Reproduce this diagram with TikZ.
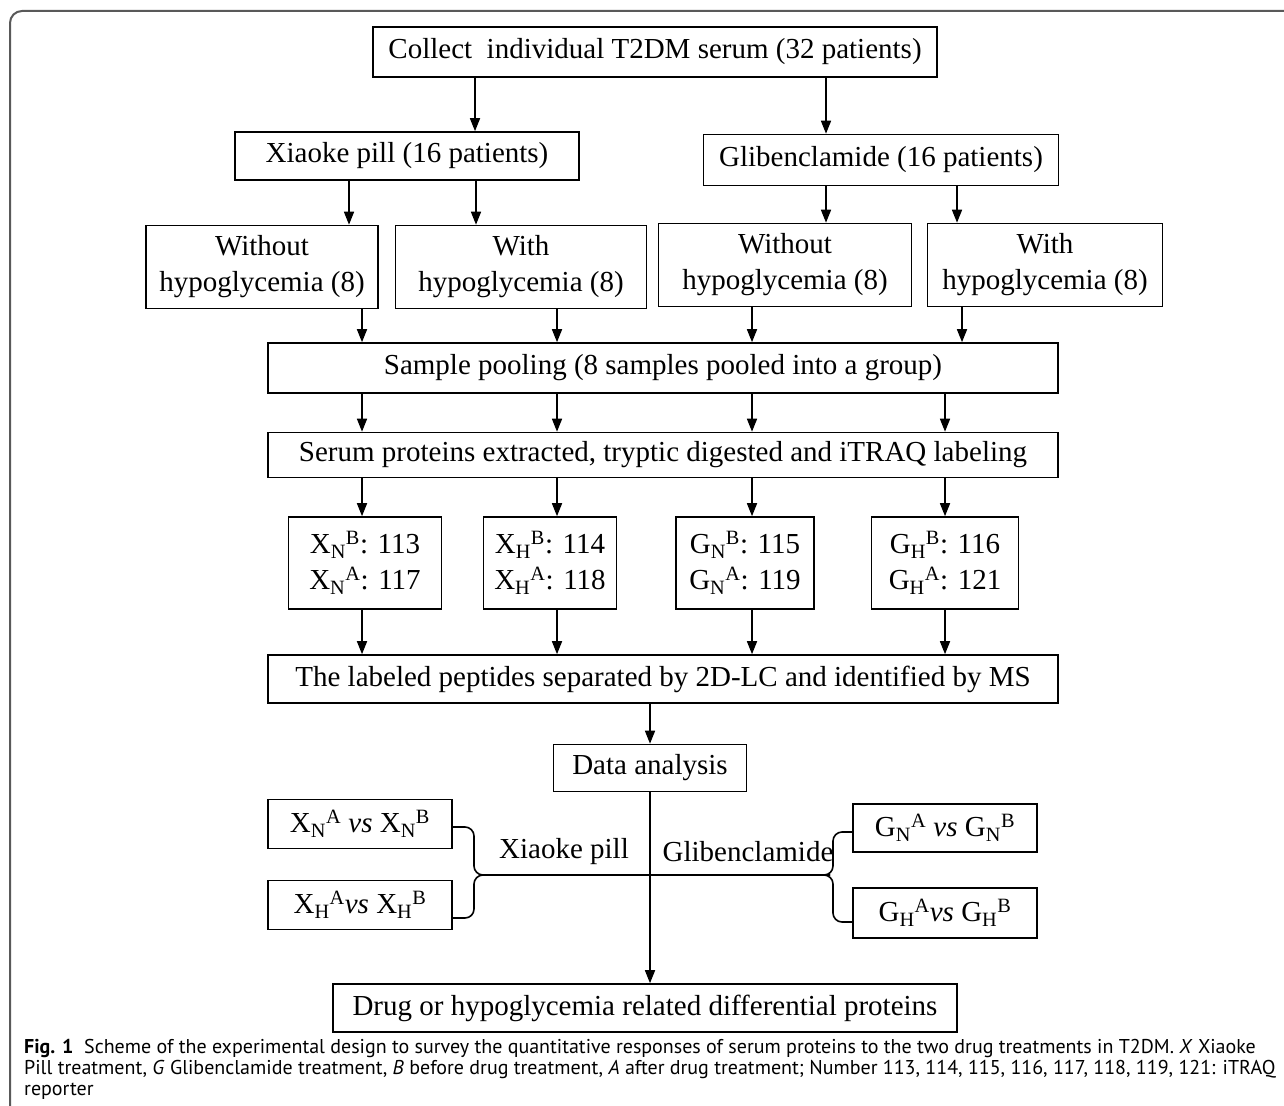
\documentclass[tikz,border=0pt]{standalone}
\usepackage{fontspec}
\setmainfont{Liberation Serif}
\newfontfamily\capfont{PT Sans}
\usetikzlibrary{arrows.meta}

\begin{document}
\begin{tikzpicture}[x=1pt,y=-1pt]
	\tikzstyle{every node}+=[inner sep=0pt,font=\fontsize{29}{36}\selectfont]
	\tikzstyle{box}=[draw=black,line width=1.6pt,align=center]
	\tikzstyle{arr}=[black,line width=1.6pt,-{Triangle[length=13pt,width=10pt]}]
	\tikzstyle{brace}=[black,line width=1.6pt,rounded corners=9pt]
	\useasboundingbox (0,0) rectangle (1284,1105);
	% outer frame
	\draw [line width=2pt,black!65,rounded corners=12pt] (1290,11) -- (10,11) -- (10,1110);
	% boxes
	\node [box,minimum width=564,minimum height=50] (collect) at (655,52) {Collect\ \ individual T2DM serum (32 patients)};
	\node [box,minimum width=344,minimum height=48] (xiaoke) at (407,156) {Xiaoke pill (16 patients)};
	\node [box,minimum width=355,minimum height=51] (glib) at (881,160) {Glibenclamide (16 patients)};
	\node [box,minimum width=232,minimum height=83] (xn) at (262,267) {Without\\hypoglycemia (8)};
	\node [box,minimum width=251,minimum height=83] (xh) at (521,267) {With\\hypoglycemia (8)};
	\node [box,minimum width=253,minimum height=83] (gn) at (785,265) {Without\\hypoglycemia (8)};
	\node [box,minimum width=235,minimum height=83] (gh) at (1045,265) {With\\hypoglycemia (8)};
	\node [box,minimum width=790,minimum height=50] (pool) at (663,368) {Sample pooling (8 samples pooled into a group)};
	\node [box,minimum width=790,minimum height=45] (serum) at (663,455) {Serum proteins extracted, tryptic digested and iTRAQ labeling};
	\node [box,minimum width=153,minimum height=92] (lxn) at (365,563) {X\textsubscript{N}\textsuperscript{B}: 113\\X\textsubscript{N}\textsuperscript{A}: 117};
	\node [box,minimum width=133,minimum height=92] (lxh) at (550,563) {X\textsubscript{H}\textsuperscript{B}: 114\\X\textsubscript{H}\textsuperscript{A}: 118};
	\node [box,minimum width=138,minimum height=92] (lgn) at (745,563) {G\textsubscript{N}\textsuperscript{B}: 115\\G\textsubscript{N}\textsuperscript{A}: 119};
	\node [box,minimum width=147,minimum height=92] (lgh) at (945,563) {G\textsubscript{H}\textsuperscript{B}: 116\\G\textsubscript{H}\textsuperscript{A}: 121};
	\node [box,minimum width=790,minimum height=48] (pept) at (663,679) {The labeled peptides separated by 2D-LC and identified by MS};
	\node [box,minimum width=193,minimum height=47] (data) at (650,768) {Data analysis};
	\node [box,minimum width=184,minimum height=49] (cxn) at (360,824) {X\textsubscript{N}\textsuperscript{A} \textit{vs} X\textsubscript{N}\textsuperscript{B}};
	\node [box,minimum width=184,minimum height=49] (cxh) at (360,905) {X\textsubscript{H}\textsuperscript{A}\textit{vs} X\textsubscript{H}\textsuperscript{B}};
	\node [box,minimum width=184,minimum height=48] (cgn) at (945,828) {G\textsubscript{N}\textsuperscript{A} \textit{vs} G\textsubscript{N}\textsuperscript{B}};
	\node [box,minimum width=184,minimum height=50] (cgh) at (945,913) {G\textsubscript{H}\textsuperscript{A}\textit{vs} G\textsubscript{H}\textsuperscript{B}};
	\node [box,minimum width=624,minimum height=48] (final) at (645,1008) {Drug or hypoglycemia related differential proteins};
	% arrows
	\draw [arr] (475,0 |- collect.south) -- (475,0 |- xiaoke.north);
	\draw [arr] (826,0 |- collect.south) -- (826,0 |- glib.north);
	\draw [arr] (349,0 |- xiaoke.south) -- (349,0 |- xn.north);
	\draw [arr] (476,0 |- xiaoke.south) -- (476,0 |- xh.north);
	\draw [arr] (826,0 |- glib.south) -- (826,0 |- gn.north);
	\draw [arr] (957,0 |- glib.south) -- (957,0 |- gh.north);
	\draw [arr] (362,0 |- xn.south) -- (362,0 |- pool.north);
	\draw [arr] (557,0 |- xh.south) -- (557,0 |- pool.north);
	\draw [arr] (752,0 |- gn.south) -- (752,0 |- pool.north);
	\draw [arr] (962,0 |- gh.south) -- (962,0 |- pool.north);
	\draw [arr] (362,0 |- pool.south) -- (362,0 |- serum.north);
	\draw [arr] (557,0 |- pool.south) -- (557,0 |- serum.north);
	\draw [arr] (752,0 |- pool.south) -- (752,0 |- serum.north);
	\draw [arr] (945,0 |- pool.south) -- (945,0 |- serum.north);
	\draw [arr] (362,0 |- serum.south) -- (362,0 |- lxn.north);
	\draw [arr] (557,0 |- serum.south) -- (557,0 |- lxh.north);
	\draw [arr] (752,0 |- serum.south) -- (752,0 |- lgn.north);
	\draw [arr] (945,0 |- serum.south) -- (945,0 |- lgh.north);
	\draw [arr] (362,0 |- lxn.south) -- (362,0 |- pept.north);
	\draw [arr] (557,0 |- lxh.south) -- (557,0 |- pept.north);
	\draw [arr] (752,0 |- lgn.south) -- (752,0 |- pept.north);
	\draw [arr] (945,0 |- lgh.south) -- (945,0 |- pept.north);
	\draw [arr] (650,0 |- pept.south) -- (data.north);
	\draw [arr] (data.south) -- (650,0 |- final.north);
	% braces and the line between them
	\coordinate (xtip) at (497,875);
	\coordinate (gtip) at (830,875);
	\draw [brace] (cxn.east |- 0,827) -- (474,827) -- (474,875) -- (xtip);
	\draw [brace] (cxh.east |- 0,918) -- (474,918) -- (474,875) -- (xtip);
	\draw [brace] (cgn.west |- 0,832) -- (833,832) -- (833,875) -- (gtip);
	\draw [brace] (cgh.west |- 0,922) -- (833,922) -- (833,875) -- (gtip);
	\draw [black,line width=1.6pt] (xtip) -- (gtip);
	\node (xlabel) at (564,852) {Xiaoke pill};
	\node (glabel) at (748,852) {Glibenclamide};
	% caption
	\node [anchor=north west,align=left,font=\capfont\fontsize{20}{21}\selectfont] (caption) at (24,1039)
	{\textbf{Fig. 1}\ \ Scheme of the experimental design to survey the quantitative responses of serum proteins to the two drug treatments in T2DM. \textit{X} Xiaoke\\
	Pill treatment, \textit{G} Glibenclamide treatment, \textit{B} before drug treatment, \textit{A} after drug treatment; Number 113, 114, 115, 116, 117, 118, 119, 121: iTRAQ\\
	reporter};
\end{tikzpicture}
\end{document}
